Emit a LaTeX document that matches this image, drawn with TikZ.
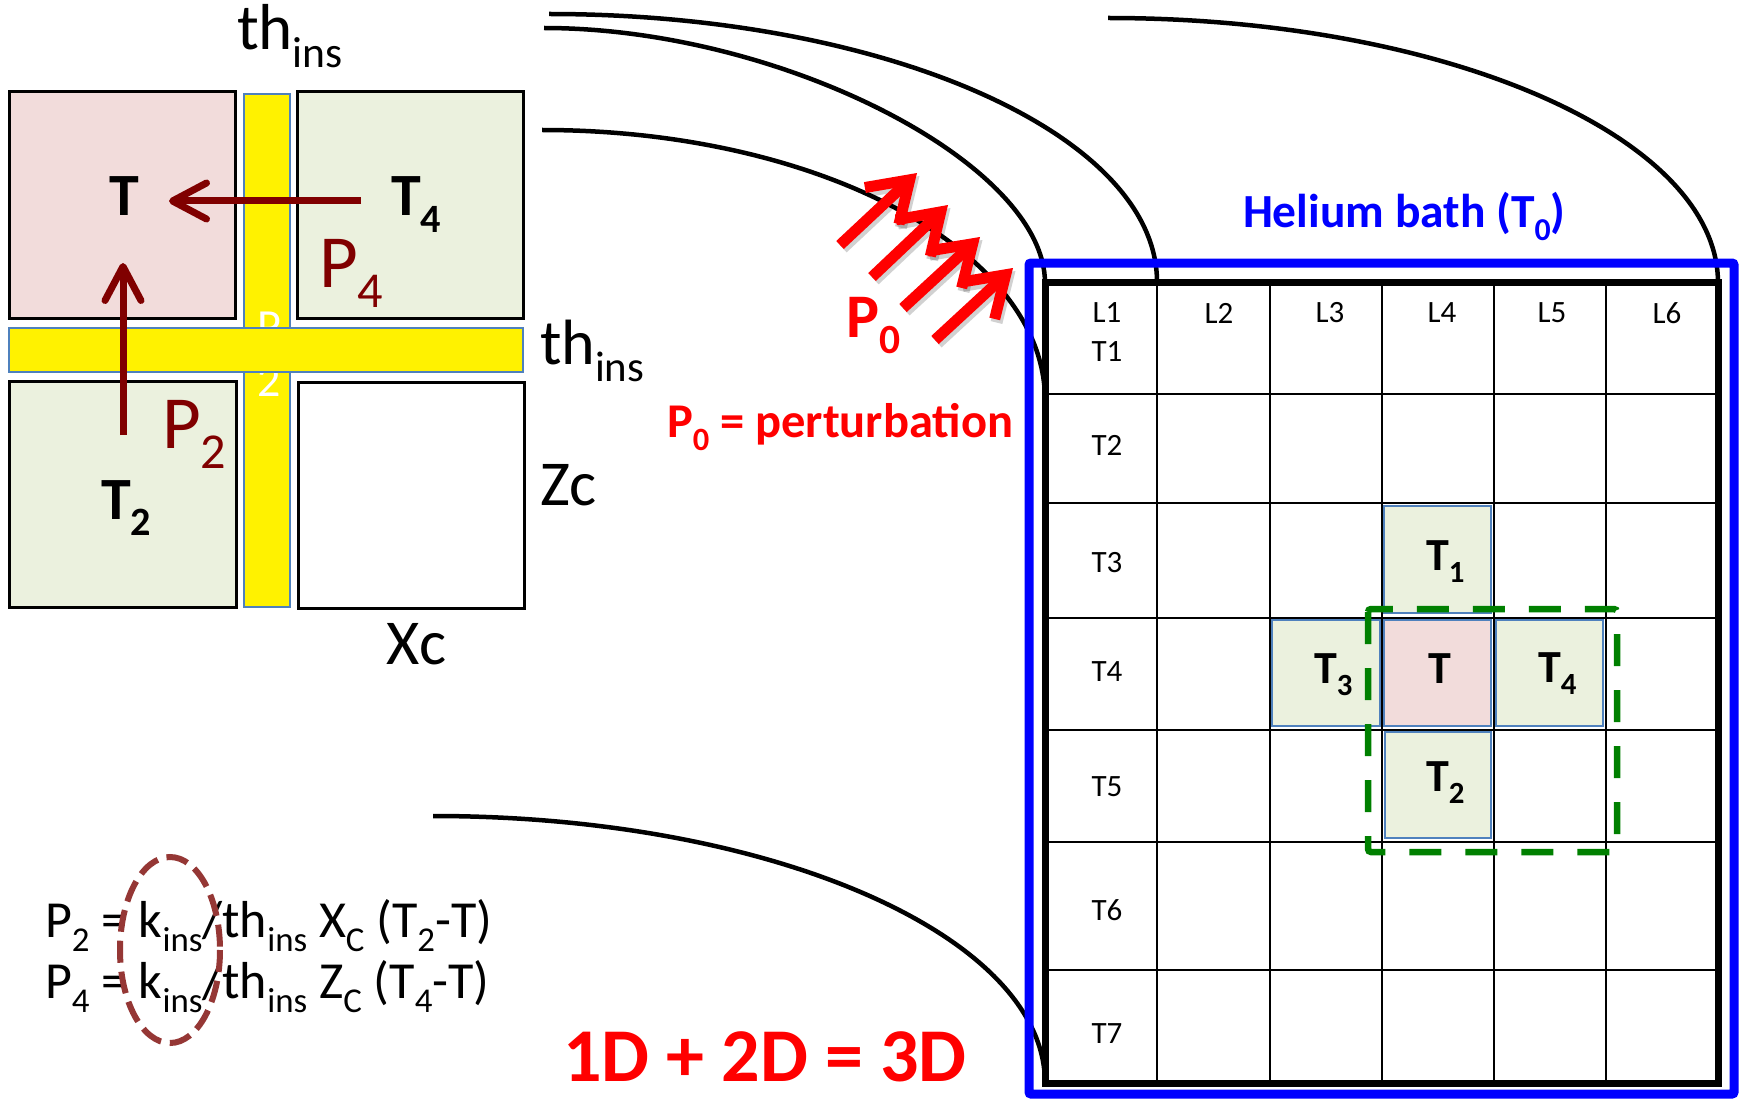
\documentclass[tikz,border=0pt]{standalone}
\usepackage{fontspec}
\setmainfont{Carlito}
\usetikzlibrary{arrows.meta}
\definecolor{dred}{RGB}{128,0,0}
\definecolor{pinkc}{RGB}{242,220,219}
\definecolor{greenc}{RGB}{235,241,222}
\definecolor{edgeb}{RGB}{79,129,189}
\definecolor{ellc}{RGB}{149,55,53}
\definecolor{dgreen}{RGB}{0,128,0}
\definecolor{bathblue}{RGB}{0,0,255}
\newcommand{\lsub}[1]{\raisebox{-0.27em}{\scalebox{0.67}{#1}}}
\newcommand{\fsz}[1]{\fontsize{#1}{#1}\selectfont}
\begin{document}
\begin{tikzpicture}[x=1pt,y=-1pt,
  txt/.style={inner sep=0pt, outer sep=0pt},
  sqbox/.style={draw=black, line width=3pt},
  ybar/.style={fill=yellow, draw=edgeb, line width=1.5pt},
  cellc/.style={draw=edgeb, line width=1.5pt},
  arcline/.style={line width=4.5pt, black},
  darrow/.style={draw=dred, line width=7pt, -{Straight Barb[length=34pt,width=36pt,line width=7pt,round]}},
  rarrow/.style={draw=red, line width=11pt, -{Straight Barb[length=38pt,width=50pt,line width=11pt]}},
  rshadow/.style={draw=black, opacity=0.18, line width=12pt, -{Straight Barb[length=38pt,width=50pt,line width=12pt]}},
  glab/.style={txt, font={\fsz{31}}},
  clab/.style={txt, anchor=base west, font={\bfseries\fsz{46}}},
]
\useasboundingbox (0,0) rectangle (1740,1102);
\fill[white] (0,0) rectangle (1740,1102);

% ---------- left: squares and insulation ----------
\filldraw[ybar] (244,94) rectangle (290,607);
\node[txt, anchor=base west, text=white] (pw) at (257,341) {\fsz{46}P};
\node[txt, anchor=base west, text=white] (tw) at (257,396) {\fsz{46}2};
\filldraw[ybar] (9,328) rectangle (523,372);
\filldraw[sqbox, fill=pinkc] (9,92) rectangle (235,318);
\filldraw[sqbox, fill=greenc] (297,92) rectangle (523,318);
\filldraw[sqbox, fill=greenc] (9,381) rectangle (236,607);
\filldraw[sqbox, fill=white] (298,382) rectangle (524,608);

\node[txt, anchor=base] (tc) at (124,216) {\bfseries\fsz{60}T};
\node[txt, anchor=base west] (t4) at (391,216) {\bfseries\fsz{60}T\lsub{4}};
\node[txt, anchor=base west] (t2) at (101,519) {\bfseries\fsz{60}T\lsub{2}};
\node[txt, anchor=base west, text=dred] (p4) at (319,287) {\fsz{75}P\lsub{4}};
\node[txt, anchor=base west, text=dred] (p2) at (162,448) {\fsz{75}P\lsub{2}};

\coordinate (a4s) at (361,201);
\coordinate (a4e) at (169,201);
\coordinate (a2s) at (123,435);
\coordinate (a2e) at (123,263);
\draw[darrow] (a4s) -- (a4e);
\draw[darrow] (a2s) -- (a2e);

\node[txt, anchor=base west] (thtop) at (237,50) {\fsz{65}th\lsub{ins}};
\node[txt, anchor=base west] (thright) at (540,364) {\fsz{64}th\lsub{ins}};
\node[txt, anchor=base west] (zc) at (540,505) {\fsz{64}Zc};
\node[txt, anchor=base west] (xc) at (386,664) {\fsz{64}Xc};

% ---------- equations ----------
\node[txt, anchor=base west] (eq1) at (45,937) {\fsz{52}P\lsub{2} = k\lsub{ins}/th\lsub{ins} X\lsub{C} (T\lsub{2}-T)};
\node[txt, anchor=base west] (eq2) at (45,998) {\fsz{52}P\lsub{4} = k\lsub{ins}/th\lsub{ins} Z\lsub{C} (T\lsub{4}-T)};
\draw[ellc, line width=6pt, dash pattern=on 22pt off 9pt] (170,950) ellipse [x radius=50, y radius=93];

\node[txt, anchor=base west, text=red] (eq3d) at (563,1081) {\bfseries\fsz{76}1D + 2D = 3D};

% ---------- arcs ----------
\draw[arcline] (549,14) .. controls (884.6,14) and (1157,134.1) .. (1157,282);
\draw[arcline] (544,28) .. controls (779.5,28) and (1045,163.1) .. (1045,283);
\draw[arcline] (542,130) .. controls (819.7,130) and (1045,251) .. (1045,400);
\draw[arcline] (1108,18) .. controls (1444.7,18) and (1718,136.7) .. (1718,283);
\draw[arcline] (433,816) .. controls (770.8,816) and (1045,935.6) .. (1045,1083);

% ---------- perturbation arrows ----------
\coordinate (r1s) at (840,245); \coordinate (r1e) at (917,173);
\coordinate (r2s) at (872,277); \coordinate (r2e) at (948,205);
\coordinate (r3s) at (903,308); \coordinate (r3e) at (980,237);
\coordinate (r4s) at (935,340); \coordinate (r4e) at (1013,268);
\foreach \s/\e in {r1s/r1e, r2s/r2e, r3s/r3e, r4s/r4e}{
  \draw[rshadow, transform canvas={shift={(2.5pt,-3pt)}}] (\s) -- (\e);
}
\foreach \s/\e in {r1s/r1e, r2s/r2e, r3s/r3e, r4s/r4e}{
  \draw[rarrow] (\s) -- (\e);
}
\node[txt, anchor=base west, text=red] (p0) at (846,337) {\bfseries\fsz{62}P\lsub{0}};
\node[txt, anchor=base west, text=red] (pert) at (667,437) {\bfseries\fsz{48.5}P\lsub{0} = perturbation};

% ---------- helium bath and grid ----------
\node[txt, anchor=base west, text=bathblue] (bath) at (1243,228) {\bfseries\fsz{47.5}Helium bath (T\lsub{0})};
\draw[bathblue, line width=9pt, rounded corners=2pt] (1029,263) rectangle (1734,1094);

\filldraw[cellc, fill=greenc] (1384,506) rectangle (1491,613);
\filldraw[cellc, fill=greenc] (1272,620) rectangle (1380,726);
\filldraw[cellc, fill=pinkc] (1384,620) rectangle (1491,726);
\filldraw[cellc, fill=greenc] (1496,620) rectangle (1603,726);
\filldraw[cellc, fill=greenc] (1385,732) rectangle (1491,838);

\foreach \x in {1157,1270,1382,1494,1606}{
  \draw[line width=2.5pt] (\x,282) -- (\x,1083);
}
\foreach \y in {394,503,618,730,842,970}{
  \draw[line width=2.5pt] (1045,\y) -- (1718,\y);
}
\draw[line width=7pt] (1045,282) rectangle (1718,1083);

\node[glab] (l1) at (1107,313) {L1};
\node[glab] (l2) at (1219,313) {L2};
\node[glab] (l3) at (1330,313) {L3};
\node[glab] (l4) at (1442,313) {L4};
\node[glab] (l5) at (1552,313) {L5};
\node[glab] (l6) at (1667,313) {L6};
\node[glab] (r1) at (1107,352) {T1};
\node[glab] (r2) at (1107,445) {T2};
\node[glab] (r3) at (1107,563) {T3};
\node[glab] (r4) at (1107,672) {T4};
\node[glab] (r5) at (1107,787) {T5};
\node[glab] (r6) at (1107,910) {T6};
\node[glab] (r7) at (1107,1034) {T7};

\node[clab] (ct1) at (1426,570) {T\lsub{1}};
\node[clab] (ct3) at (1314,683) {T\lsub{3}};
\node[clab] (ctc) at (1428,683) {T};
\node[clab] (ct4) at (1538,682) {T\lsub{4}};
\node[clab] (ct2) at (1426,791) {T\lsub{2}};

\draw[dgreen, line width=6.5pt, dash pattern=on 32pt off 24pt, rounded corners=3pt] (1368,609) rectangle (1617,852);
\end{tikzpicture}
\end{document}
